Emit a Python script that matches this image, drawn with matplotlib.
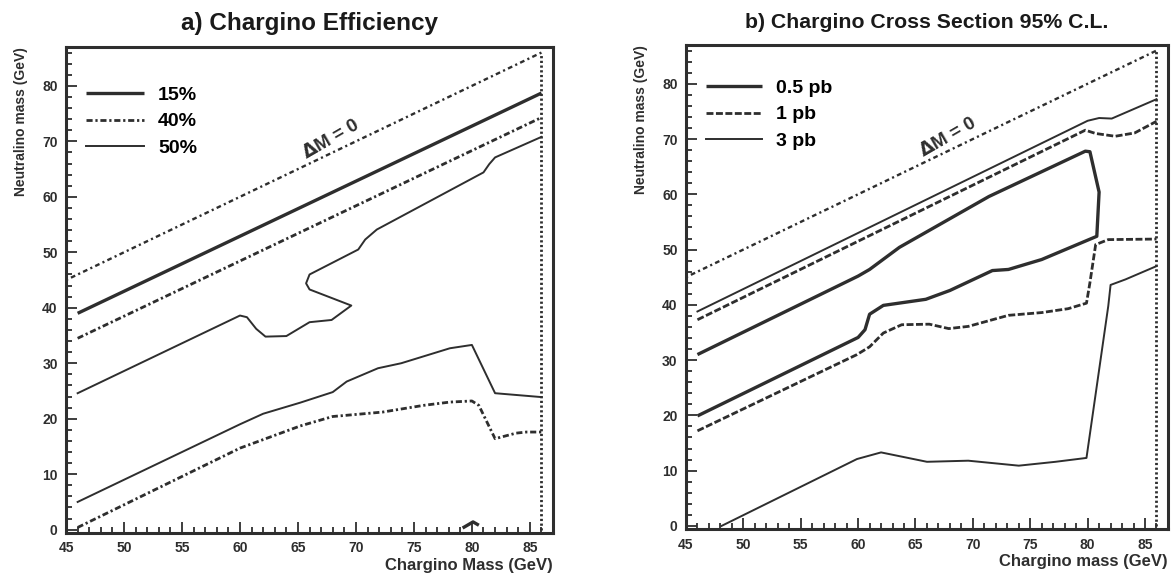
import matplotlib
matplotlib.use("Agg")
import matplotlib.pyplot as plt
from matplotlib.ticker import MultipleLocator

plt.rcParams['font.family'] = ['Liberation Sans', 'DejaVu Sans']
plt.rcParams['font.weight'] = 'bold'

INK = '#2e2e2e'

# ---- panel a) efficiency contours ----
a15_x = [46, 86]
a15_y = [39.0, 78.7]
a40_up_x = [46, 86]
a40_up_y = [34.5, 74.3]
a50_up_x = [46, 60, 60.6, 61.4, 62.2, 64.0, 66.0, 67.9, 69.6, 66.0, 65.7, 66.0,
            70.2, 70.8, 71.8, 81.0, 81.5, 82.0, 86.0]
a50_up_y = [24.6, 38.6, 38.3, 36.2, 34.8, 34.9, 37.4, 37.8, 40.4, 43.3, 44.4, 46.0,
            50.5, 52.3, 54.1, 64.4, 65.9, 67.1, 70.8]
a50_lo_x = [46, 60, 62, 65.2, 68, 69.2, 71.9, 73.9, 78.1, 80, 82, 86]
a50_lo_y = [5.0, 19.0, 20.9, 22.9, 24.8, 26.7, 29.1, 30.0, 32.7, 33.3, 24.6, 23.9]
a40_lo_x = [46, 60, 65.2, 68, 72.3, 75.8, 78.1, 80, 80.6, 82, 83.8, 84.7, 86]
a40_lo_y = [0.4, 14.7, 18.7, 20.4, 21.2, 22.4, 23.0, 23.2, 22.4, 16.4, 17.4, 17.6, 17.6]
a_blob_x = [79.2, 80.1, 80.6]
a_blob_y = [0.3, 1.4, 0.8]

# ---- panel b) cross section contours ----
b3_up_x = [46, 80, 81, 82.1, 86]
b3_up_y = [38.8, 73.3, 73.8, 73.7, 77.2]
b1_up_x = [46, 79.8, 80.7, 82.4, 84.1, 86]
b1_up_y = [37.3, 71.6, 71.0, 70.5, 71.1, 73.2]
b05_x = [46, 60, 61, 63.6, 71.4, 79.8, 80.2, 81.0, 80.8, 76.0, 73.1, 71.7, 68.0,
         65.9, 62.2, 61.0, 60.6, 60.0, 46]
b05_y = [31.0, 45.2, 46.4, 50.4, 59.6, 67.8, 67.7, 60.4, 52.4, 48.2, 46.4, 46.2, 42.6,
         41.0, 39.9, 38.3, 35.5, 34.1, 19.9]
b1_lo_x = [46, 59.9, 61, 62.2, 63.8, 66.2, 67.9, 69.6, 73.1, 76, 78.3, 79.9, 80.2,
           80.7, 81.8, 86]
b1_lo_y = [17.2, 31.0, 32.4, 34.9, 36.4, 36.5, 35.7, 36.1, 38.1, 38.6, 39.3, 40.3,
           44.0, 50.9, 51.8, 51.9]
b3_lo_x = [48.1, 59.9, 62.0, 66.0, 69.6, 74.0, 77.2, 79.9, 81.8, 82.0, 83.3, 86]
b3_lo_y = [0.0, 12.1, 13.3, 11.6, 11.8, 10.9, 11.6, 12.3, 39.8, 43.6, 44.6, 47.0]

diag_x = [45, 86]
edge_x = [86, 86]
edge_y = [0, 86]

labels_a = ['15%', '40%', '50%']
labels_b = ['0.5 pb', '1 pb', '3 pb']

thick = dict(color=INK, lw=2.4, solid_capstyle='butt')
dashdot = dict(color=INK, lw=2.0, linestyle=(0, (2.2, 1.0, 0.8, 1.0)))
dashed = dict(color=INK, lw=2.0, linestyle=(0, (2.5, 0.9)))
thin = dict(color=INK, lw=1.4)
diag = dict(color=INK, lw=1.7, linestyle=(0, (0.9, 1.4, 2.0, 1.4)))
vert = dict(color=INK, lw=2.0, linestyle=(0, (0.8, 0.9)))

fig = plt.figure(figsize=(11.71, 5.74), dpi=100)
ax1 = fig.add_axes([0.0564, 0.0714, 0.4159, 0.8467])
ax2 = fig.add_axes([0.5858, 0.078, 0.4116, 0.8435])


def style(ax, title, tsize, xlabel):
    ax.set_xlim(45, 87)
    ax.set_ylim(-0.6, 87)
    ax.xaxis.set_major_locator(MultipleLocator(5))
    ax.xaxis.set_minor_locator(MultipleLocator(1))
    ax.yaxis.set_major_locator(MultipleLocator(10))
    ax.yaxis.set_minor_locator(MultipleLocator(2))
    ax.tick_params(which='both', direction='in', color=INK, width=1.3)
    ax.tick_params(which='major', length=8, labelsize=10, pad=6)
    ax.tick_params(which='minor', length=4)
    for s in ax.spines.values():
        s.set_linewidth(2.2)
        s.set_color(INK)
    for lab in ax.get_xticklabels() + ax.get_yticklabels():
        lab.set_fontweight('bold')
        lab.set_color(INK)
    ax.set_title(title, fontsize=tsize, fontweight='bold', pad=12, color='#1a1a1a')
    ax.set_xlabel(xlabel, loc='right', fontsize=12, fontweight='bold', labelpad=2, color=INK)
    ax.set_ylabel('Neutralino mass (GeV)', loc='top', fontsize=10, fontweight='bold',
                  labelpad=10, color=INK)
    ax.plot(diag_x, diag_x, **diag)
    ax.plot(edge_x, edge_y, **vert)
    ax.text(67.8, 70.4, r'$\Delta$M = 0', rotation=30, ha='center', va='center',
            fontsize=13.5, fontweight='bold', color=INK)


# panel a
style(ax1, 'a) Chargino Efficiency', 17.5, 'Chargino Mass (GeV)')
h1, = ax1.plot(a15_x, a15_y, **thick)
h2, = ax1.plot(a40_up_x, a40_up_y, **dashdot)
ax1.plot(a40_lo_x, a40_lo_y, **dashdot)
h3, = ax1.plot(a50_up_x, a50_up_y, **thin)
ax1.plot(a50_lo_x, a50_lo_y, **thin)
ax1.plot(a_blob_x, a_blob_y, **thick)
ax1.legend([h1, h2, h3], labels_a, loc='upper left', bbox_to_anchor=(0.005, 0.955),
           frameon=False, handlelength=3.0, handletextpad=0.7, labelspacing=0.45,
           prop={'weight': 'bold', 'size': 14})

# panel b
style(ax2, 'b) Chargino Cross Section 95% C.L.', 15.3, 'Chargino mass (GeV)')
g1, = ax2.plot(b05_x, b05_y, **thick)
g2, = ax2.plot(b1_up_x, b1_up_y, **dashed)
ax2.plot(b1_lo_x, b1_lo_y, **dashed)
g3, = ax2.plot(b3_up_x, b3_up_y, **thin)
ax2.plot(b3_lo_x, b3_lo_y, **thin)
ax2.legend([g1, g2, g3], labels_b, loc='upper left', bbox_to_anchor=(0.005, 0.965),
           frameon=False, handlelength=2.9, handletextpad=0.7, labelspacing=0.45,
           prop={'weight': 'bold', 'size': 14})

fig.savefig('out.png', dpi=100)
